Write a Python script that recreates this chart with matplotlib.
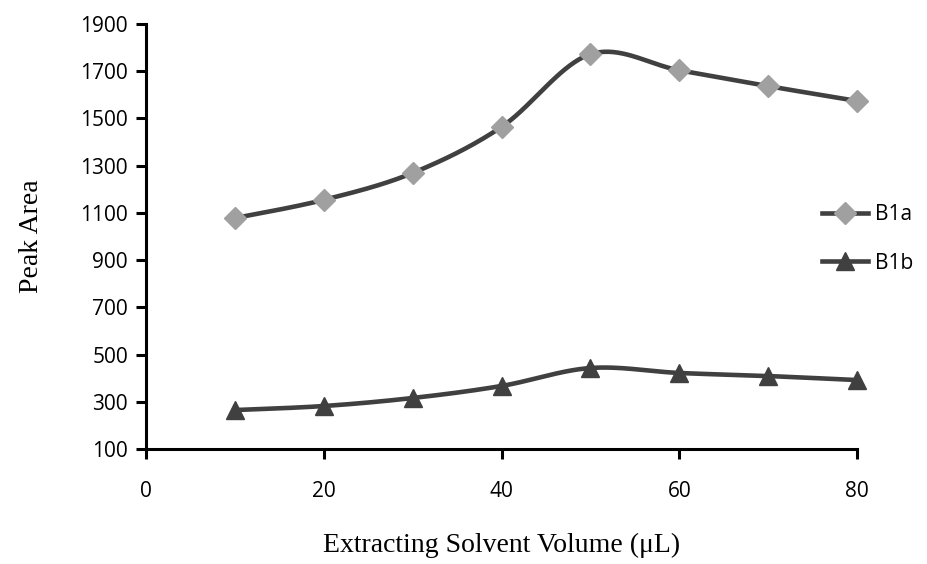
import numpy as np
import matplotlib
matplotlib.use("Agg")
import matplotlib.pyplot as plt

# data
volume = [10, 20, 30, 40, 50, 60, 70, 80]
b1a = [1078, 1155, 1269, 1464, 1772, 1704, 1637, 1574]
b1b = [265, 282, 316, 367, 443, 422, 409, 392]
x_ticks = [0, 20, 40, 60, 80]
y_ticks = [100, 300, 500, 700, 900, 1100, 1300, 1500, 1700, 1900]


def smooth(x, y, n=40):
    # Excel-like smoothed line (Catmull-Rom style Bezier)
    x = np.asarray(x, float)
    y = np.asarray(y, float)
    px = np.concatenate([[x[0]], x, [x[-1]]])
    py = np.concatenate([[y[0]], y, [y[-1]]])
    xs, ys = [], []
    t = np.linspace(0, 1, n)
    for i in range(1, len(px) - 2):
        p0 = np.array([px[i], py[i]])
        p3 = np.array([px[i + 1], py[i + 1]])
        p1 = p0 + (np.array([px[i + 1], py[i + 1]]) - np.array([px[i - 1], py[i - 1]])) / 6
        p2 = p3 - (np.array([px[i + 2], py[i + 2]]) - np.array([px[i], py[i]])) / 6
        b = ((1 - t) ** 3)[:, None] * p0 + (3 * (1 - t) ** 2 * t)[:, None] * p1 \
            + (3 * (1 - t) * t ** 2)[:, None] * p2 + (t ** 3)[:, None] * p3
        xs.extend(b[:, 0])
        ys.extend(b[:, 1])
    return xs, ys


line_col = "#404040"
diam_col = "#a0a0a0"

fig = plt.figure(figsize=(9.27, 5.64), dpi=100)
ax = fig.add_axes([146 / 927, 1 - 449 / 564, (857 - 146) / 927, (449 - 24) / 564])

sx, sy = smooth(volume, b1a)
ax.plot(sx, sy, color=line_col, lw=3.3, zorder=2, clip_on=False)
ax.plot(volume, b1a, ls="none", marker="D", ms=11, color=diam_col, zorder=3, clip_on=False)
sx, sy = smooth(volume, b1b)
ax.plot(sx, sy, color=line_col, lw=3.3, zorder=2, clip_on=False)
ax.plot(volume, b1b, ls="none", marker="^", ms=13, color=line_col, zorder=3, clip_on=False)

# legend handles
ax.plot([], [], color=line_col, lw=3.3, marker="D", ms=11, mfc=diam_col, mec=diam_col, label="B1a")
ax.plot([], [], color=line_col, lw=3.3, marker="^", ms=13, mfc=line_col, mec=line_col, label="B1b")
leg = fig.legend(loc="center left", bbox_to_anchor=(822 / 927, 1 - 239 / 564),
                 bbox_transform=fig.transFigure, frameon=False, borderpad=0, borderaxespad=0,
                 handlelength=2.2, labelspacing=1.3, handletextpad=0.35,
                 prop={"family": "Open Sans", "size": 15})

ax.set_xlim(0, 80)
ax.set_ylim(100, 1900)
ax.set_xticks(x_ticks)
ax.set_yticks(y_ticks)
for s in ["top", "right"]:
    ax.spines[s].set_visible(False)
for s in ["left", "bottom"]:
    ax.spines[s].set_linewidth(2.2)
ax.tick_params(axis="both", width=2.2, length=7, direction="out", labelsize=15)
ax.tick_params(axis="x", pad=16)
ax.tick_params(axis="y", pad=6)
for lab in ax.get_xticklabels() + ax.get_yticklabels():
    lab.set_family("Open Sans")

ax.set_xlabel("Extracting Solvent Volume (\u03bcL)", family="Liberation Serif", fontsize=20, labelpad=22)
ax.set_ylabel("Peak Area", family="Liberation Serif", fontsize=20, labelpad=26)

fig.savefig("out.png", dpi=100)
